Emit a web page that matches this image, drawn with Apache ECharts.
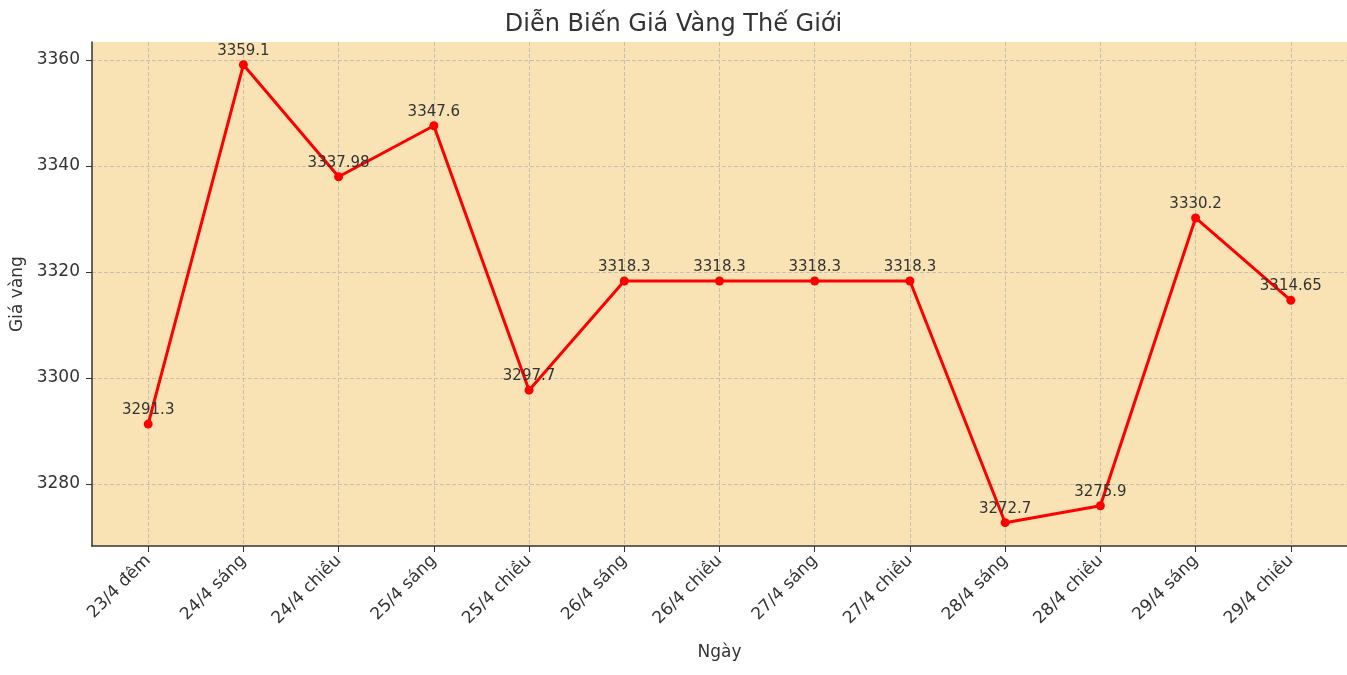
<!DOCTYPE html>
<html><head><meta charset="utf-8">
<script src="https://cdn.jsdelivr.net/npm/echarts@6/dist/echarts.min.js"></script>
<style>html,body{margin:0;padding:0;background:#fff}#c{width:1347px;height:675px}</style>
</head><body><div id="c"></div>
<script>
const categories = ["23/4 đêm","24/4 sáng","24/4 chiều","25/4 sáng","25/4 chiều","26/4 sáng","26/4 chiều","27/4 sáng","27/4 chiều","28/4 sáng","28/4 chiều","29/4 sáng","29/4 chiều"];
const prices = [3291.3,3359.1,3337.98,3347.6,3297.7,3318.3,3318.3,3318.3,3318.3,3272.7,3275.9,3330.2,3314.65];
const yTicks = [3280,3300,3320,3340,3360];
const idx = categories.map((_, i) => i);
const font = "DejaVu Sans";
const chart = echarts.init(document.getElementById('c'));
chart.setOption({
  animation:false,
  textStyle:{fontFamily:font},
  title:{text:"Diễn Biến Giá Vàng Thế Giới",left:'center',top:8,textStyle:{fontFamily:font,fontSize:24,fontWeight:'normal',color:'#333'}},
  grid:{left:92,right:0,top:42,bottom:129,outerBoundsMode:'none',containLabel:false,show:true,backgroundColor:'#f9e3b4',borderWidth:0},
  xAxis:{type:'value',min:-0.59,max:12.59,name:'Ngày',nameLocation:'middle',nameGap:98,
    nameTextStyle:{fontSize:17,color:'#333',fontFamily:font},
    axisLine:{onZero:false,lineStyle:{color:'#333',width:1.5}},
    axisTick:{show:true,customValues:idx,length:6,lineStyle:{color:'#333'}},
    axisLabel:{customValues:idx,rotate:45,fontSize:17,color:'#333',margin:12,formatter:v=>categories[Math.round(v)]},
    splitLine:{show:true,customValues:idx,lineStyle:{type:'dashed',color:'#c8bfb0'}}},
  yAxis:{type:'value',min:3268.3,max:3363.4,name:'Giá vàng',nameLocation:'middle',nameGap:66,
    nameTextStyle:{fontSize:17,color:'#333',fontFamily:font},
    axisLine:{show:true,onZero:false,lineStyle:{color:'#333',width:1.5}},
    axisTick:{show:true,customValues:yTicks,length:6,lineStyle:{color:'#333'}},
    axisLabel:{customValues:yTicks,fontSize:17,color:'#333',margin:12,formatter:v=>String(v)},
    splitLine:{show:true,customValues:yTicks,lineStyle:{type:'dashed',color:'#c8bfb0'}}},
  series:[{type:'line',data:prices.map((p,i)=>[i,p]),
    lineStyle:{color:'#ff0000',width:3},itemStyle:{color:'#ff0000'},
    symbol:'circle',symbolSize:9,
    label:{show:true,position:'top',distance:2,fontSize:15,color:'#333',formatter:p=>String(p.value[1])}}]
});
</script></body></html>
